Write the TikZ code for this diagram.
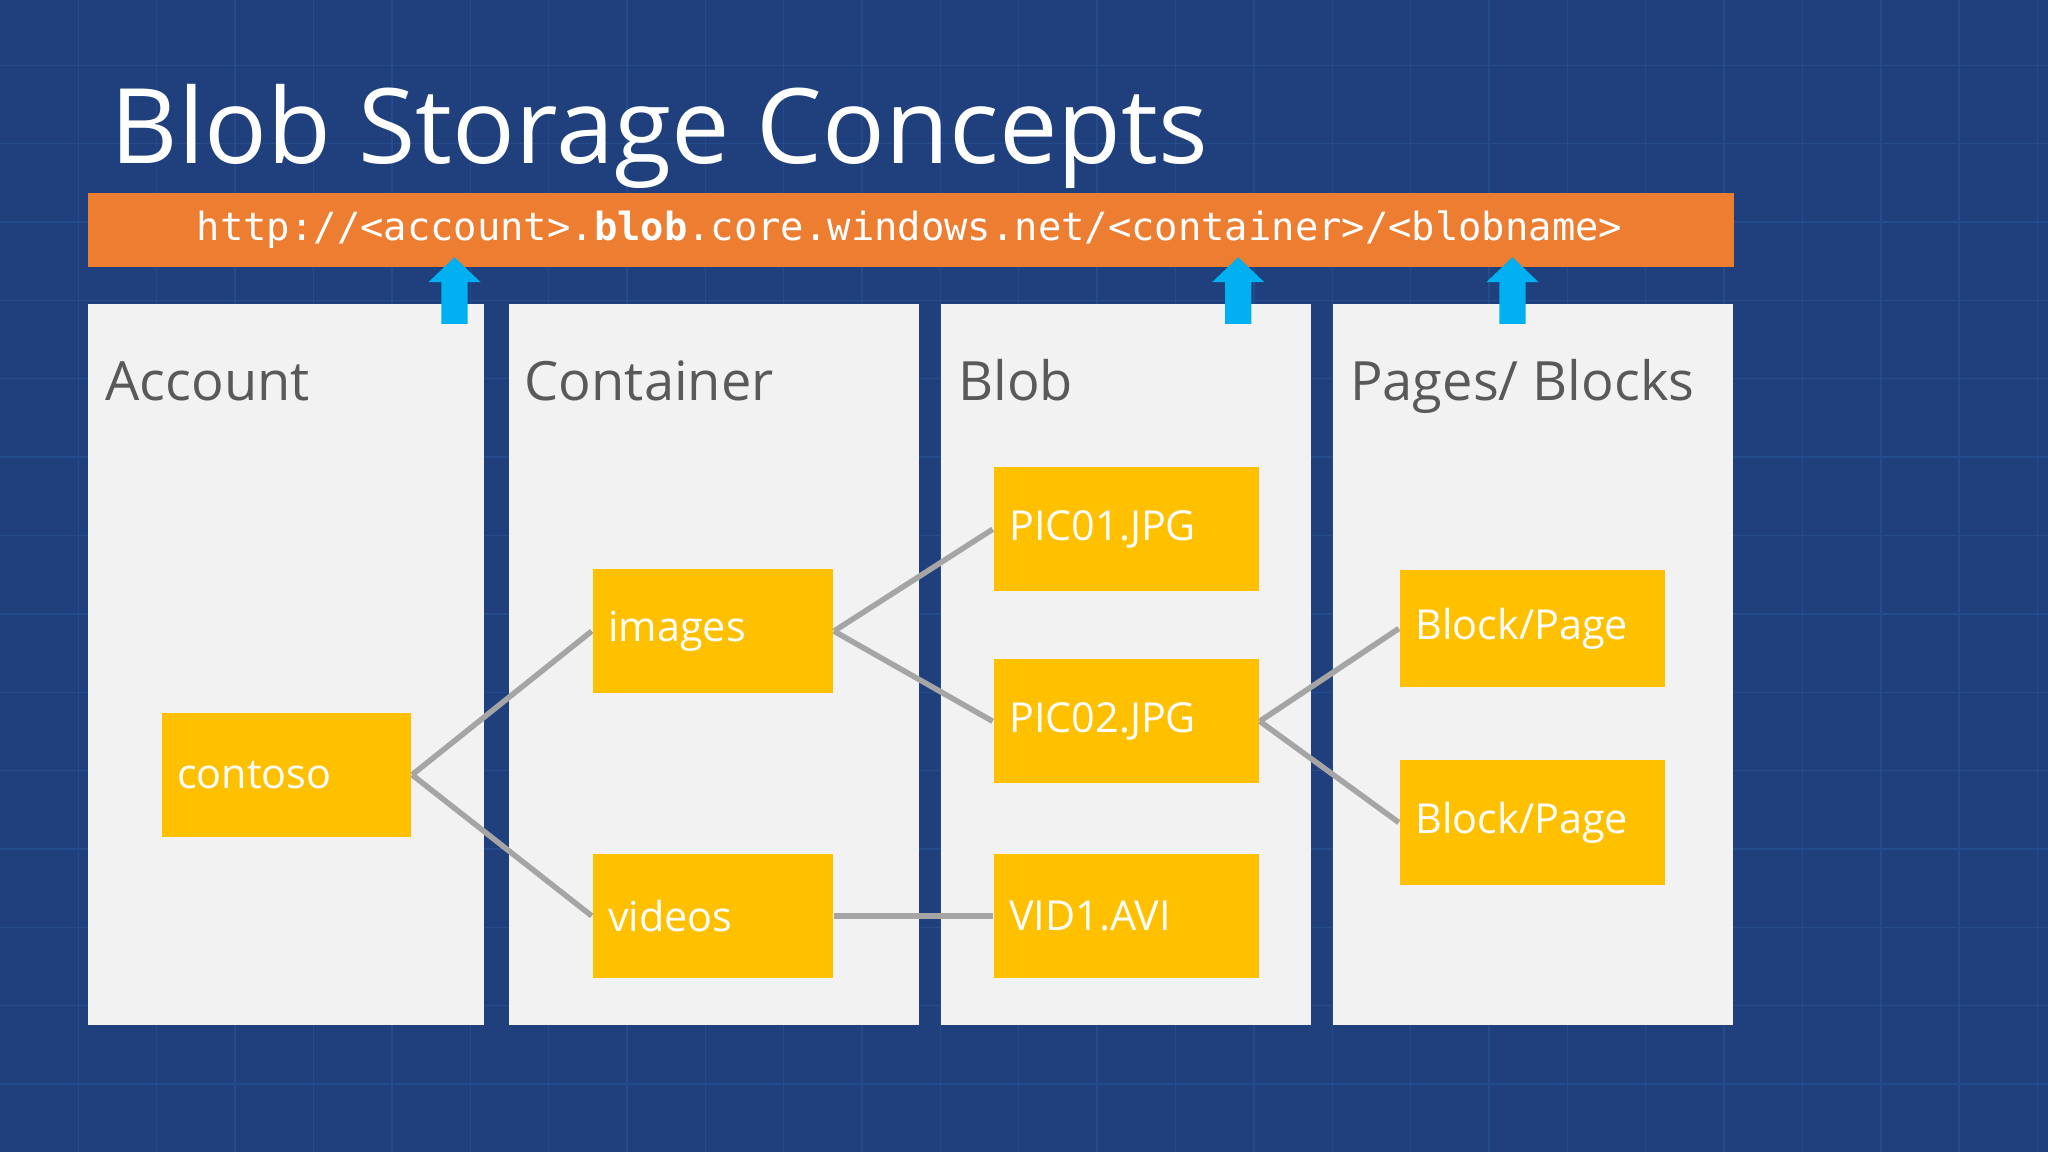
\documentclass[tikz,border=0pt]{standalone}
\usepackage{fontspec}
\setmainfont{Open Sans}
\newfontfamily\monof{DejaVu Sans Mono}
\definecolor{bg}{RGB}{31,64,125}
\definecolor{gridc}{RGB}{36,76,140}
\definecolor{orng}{RGB}{237,125,49}
\definecolor{pnl}{RGB}{242,242,242}
\definecolor{ylw}{RGB}{255,192,0}
\definecolor{arw}{RGB}{0,176,240}
\definecolor{ttl}{RGB}{89,89,89}
\definecolor{lnk}{RGB}{165,165,165}
\begin{document}
\begin{tikzpicture}[x=0.01cm,y=-0.01cm,
  panel/.style={fill=pnl,draw=none,minimum height=5.52cm,anchor=north west,inner sep=0},
  ptitle/.style={anchor=base west,text=ttl,font=\fontsize{11.8}{14}\selectfont,inner sep=0},
  box/.style={fill=ylw,draw=none,minimum width=#1,anchor=north west,inner sep=0},
  btxt/.style={text=white,font=\fontsize{9}{11}\selectfont,anchor=west,inner sep=0},
  link/.style={draw=lnk,line width=1.2pt},
  uparrow/.style={fill=arw,draw=none}]
\fill[bg] (0,0) rectangle (1568,882);
\useasboundingbox (0,0) rectangle (1568,882);
\foreach \x in {60,120,...,1560} \draw[gridc,line width=0.3pt] (\x,0)--(\x,882);
\foreach \y in {50,110,...,880} \draw[gridc,line width=0.3pt] (0,\y)--(1568,\y);
\node[anchor=base west,text=white,inner sep=0,font=\fontsize{22.7}{26}\selectfont] (title) at (84,125) {Blob Storage Concepts};
\node[fill=orng,minimum width=12.59cm,minimum height=0.57cm,anchor=north west,inner sep=0] (bar) at (67,147) {};
\node[text=white,font=\monof\fontsize{8.45}{10}\selectfont,anchor=west,inner sep=0] (url) at (150,176) {http://<account>.\textbf{blob}.core.windows.net/<container>/<blobname>};
% panels
\node[panel,minimum width=3.03cm] (pA) at (67,232) {};
\node[panel,minimum width=3.14cm] (pC) at (389,232) {};
\node[panel,minimum width=2.83cm] (pB) at (720,232) {};
\node[panel,minimum width=3.06cm] (pP) at (1020,232) {};
% arrows
\foreach \n/\x in {a1/348,a2/948,a3/1158}{
  \fill[uparrow] (\x-10,248)--(\x-10,216)--(\x-20,216)--(\x,197)--(\x+20,216)--(\x+10,216)--(\x+10,248)--cycle;
  \coordinate (\n) at (\x,197);}
\node[ptitle] (tA) at (80,307) {Account};
\node[ptitle] (tC) at (401,307) {Container};
\node[ptitle] (tB) at (733,307) {Blob};
\node[ptitle] (tP) at (1033,307) {Pages/ Blocks};
% boxes
\node[box=1.91cm,minimum height=0.95cm] (contoso) at (123,545) {};
\node[box=1.84cm,minimum height=0.95cm] (images) at (453,435) {};
\node[box=1.84cm,minimum height=0.95cm] (videos) at (453,653) {};
\node[box=2.03cm,minimum height=0.95cm] (pic1) at (760,357) {};
\node[box=2.03cm,minimum height=0.95cm] (pic2) at (760,504) {};
\node[box=2.03cm,minimum height=0.95cm] (vid) at (760,653) {};
\node[box=2.03cm,minimum height=0.89cm] (bp1) at (1071,436) {};
\node[box=2.03cm,minimum height=0.96cm] (bp2) at (1071,581) {};
\foreach \b/\t in {contoso/contoso,images/images,videos/videos,pic1/PIC01.JPG,pic2/PIC02.JPG,vid/VID1.AVI,bp1/Block\slash Page,bp2/Block\slash Page}
  \node[btxt] at ([xshift=0.12cm]\b.west) {\t};
\draw[link] (contoso.east)--(images.west);
\draw[link] (contoso.east)--(videos.west);
\draw[link] (images.east)--(pic1.west);
\draw[link] (images.east)--(pic2.west);
\draw[link] (videos.east)--(vid.west);
\draw[link] (pic2.east)--(bp1.west);
\draw[link] (pic2.east)--(bp2.west);
\end{tikzpicture}
\end{document}
